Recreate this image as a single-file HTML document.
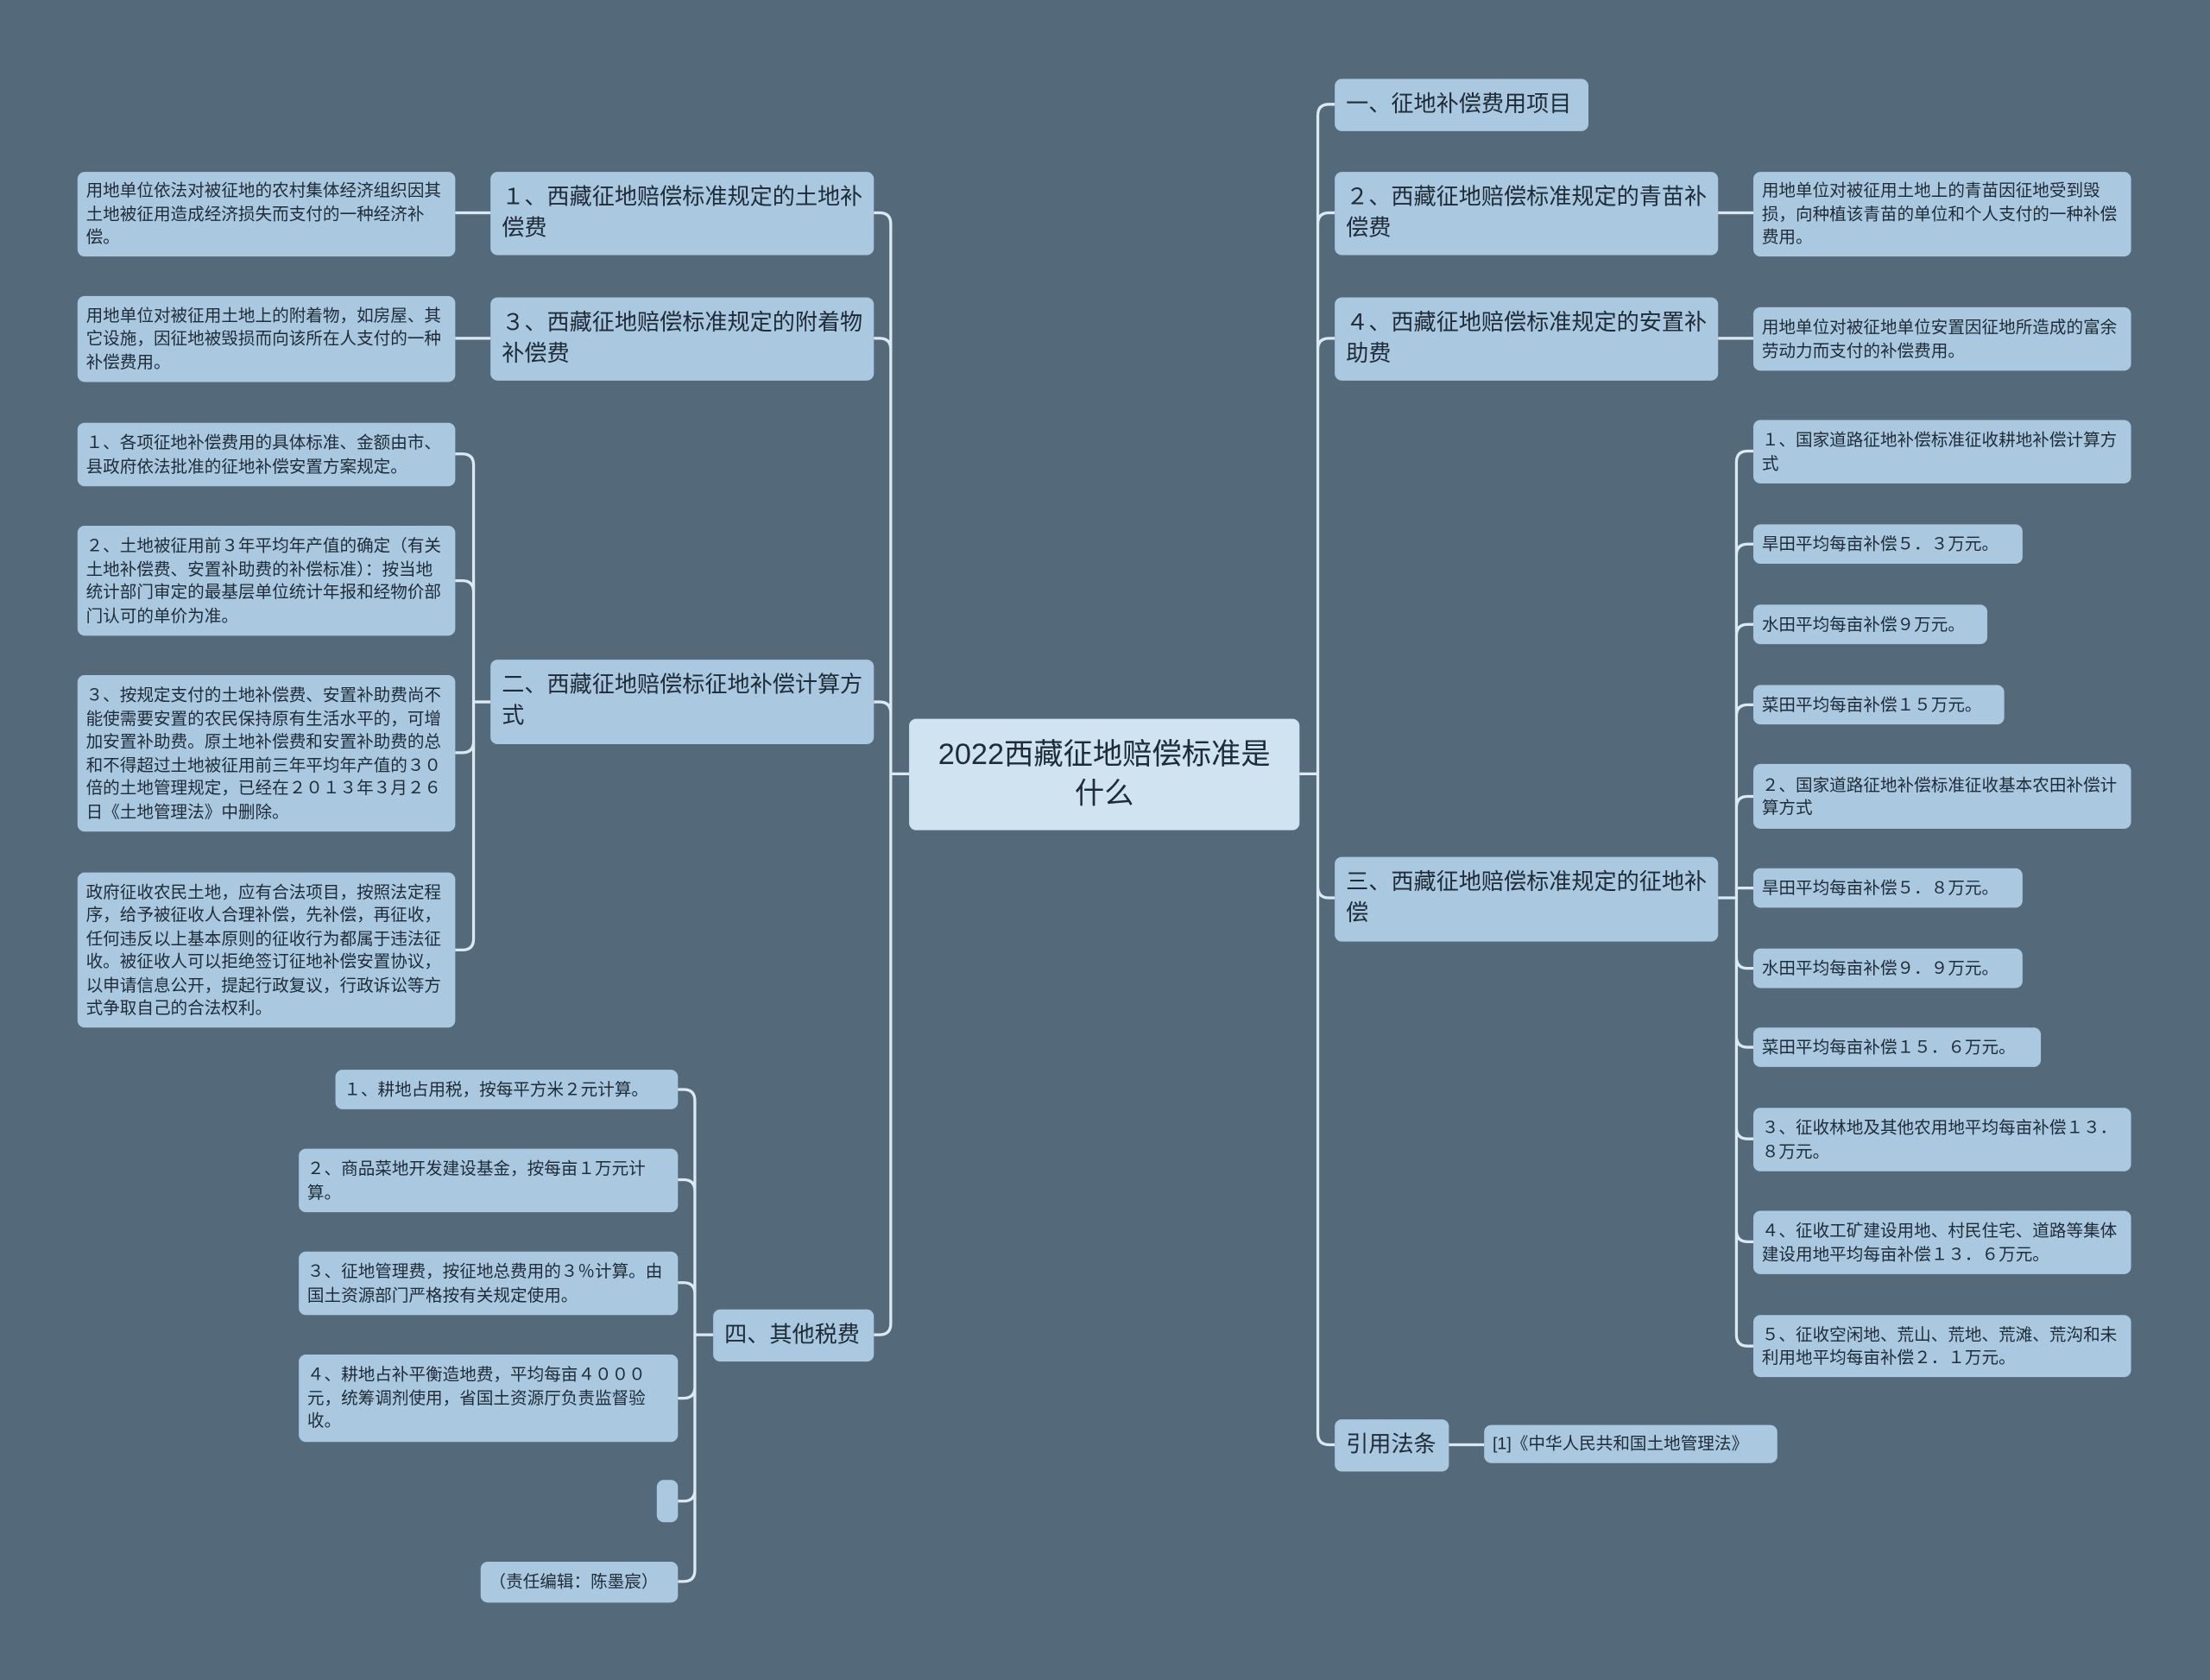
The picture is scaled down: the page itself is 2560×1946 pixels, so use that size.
<!DOCTYPE html>
<html><head><meta charset="utf-8">
<style>
html,body{margin:0;padding:0;background:#546a7a;width:2560px;height:1946px;overflow:hidden}
#s{position:absolute;left:0;top:0;width:1568px;height:1192px;transform:scale(1.632653);transform-origin:0 0;font-family:"Liberation Sans","Noto Sans CJK SC",sans-serif;color:#1f2b36}
.n{position:absolute;box-sizing:border-box;background:#aac8e0;border-radius:5px;display:flex;align-items:center;word-break:break-all}
.l1{font-size:16px;line-height:22px;padding:0 8px}
.lf{font-size:12px;line-height:16.5px;padding:0 6px}
.nw{white-space:nowrap}
.root{background:#cfe3f1;font-size:21px;line-height:28px;justify-content:center;text-align:center;padding:0 12px}
svg{position:absolute;left:0;top:0}
</style></head><body><div id="s">
<svg width="1568" height="1192" id="g"></svg>
<div class="n root" style="left:645px;top:510px;width:277px;height:79px">2022西藏征地赔偿标准是什么</div>

<div class="n l1 nw" style="left:947px;top:56px;width:180px;height:37px">一、征地补偿费用项目</div>
<div class="n l1" style="left:947px;top:122px;width:272px;height:59px">２、西藏征地赔偿标准规定的青苗补偿费</div>
<div class="n l1" style="left:947px;top:211px;width:272px;height:59px">４、西藏征地赔偿标准规定的安置补助费</div>
<div class="n l1" style="left:947px;top:608px;width:272px;height:60px">三、西藏征地赔偿标准规定的征地补偿</div>
<div class="n l1 nw" style="left:947px;top:1007px;width:81px;height:37px">引用法条</div>

<div class="n lf" style="left:1244px;top:122px;width:268px;height:60px">用地单位对被征用土地上的青苗因征地受到毁损，向种植该青苗的单位和个人支付的一种补偿费用。</div>
<div class="n lf" style="left:1244px;top:218px;width:268px;height:45px">用地单位对被征地单位安置因征地所造成的富余劳动力而支付的补偿费用。</div>
<div class="n lf" style="left:1244px;top:298px;width:268px;height:45px">１、国家道路征地补偿标准征收耕地补偿计算方式</div>
<div class="n lf nw" style="left:1244px;top:372px;width:191px;height:28px">旱田平均每亩补偿５．３万元。</div>
<div class="n lf nw" style="left:1244px;top:429px;width:166px;height:28px">水田平均每亩补偿９万元。</div>
<div class="n lf nw" style="left:1244px;top:486px;width:178px;height:28px">菜田平均每亩补偿１５万元。</div>
<div class="n lf" style="left:1244px;top:542px;width:268px;height:46px">２、国家道路征地补偿标准征收基本农田补偿计算方式</div>
<div class="n lf nw" style="left:1244px;top:616px;width:191px;height:28px">旱田平均每亩补偿５．８万元。</div>
<div class="n lf nw" style="left:1244px;top:673px;width:191px;height:28px">水田平均每亩补偿９．９万元。</div>
<div class="n lf nw" style="left:1244px;top:729px;width:204px;height:28px">菜田平均每亩补偿１５．６万元。</div>
<div class="n lf" style="left:1244px;top:786px;width:268px;height:45px">３、征收林地及其他农用地平均每亩补偿１３．８万元。</div>
<div class="n lf" style="left:1244px;top:859px;width:268px;height:45px">４、征收工矿建设用地、村民住宅、道路等集体建设用地平均每亩补偿１３．６万元。</div>
<div class="n lf" style="left:1244px;top:933px;width:268px;height:44px">５、征收空闲地、荒山、荒地、荒滩、荒沟和未利用地平均每亩补偿２．１万元。</div>
<div class="n lf nw" style="left:1053px;top:1011px;width:208px;height:27px">[1]《中华人民共和国土地管理法》</div>

<div class="n l1" style="left:348px;top:122px;width:272px;height:59px">１、西藏征地赔偿标准规定的土地补偿费</div>
<div class="n l1" style="left:348px;top:211px;width:272px;height:59px">３、西藏征地赔偿标准规定的附着物补偿费</div>
<div class="n l1" style="left:348px;top:468px;width:272px;height:60px">二、西藏征地赔偿标征地补偿计算方式</div>
<div class="n l1 nw" style="left:506px;top:929px;width:114px;height:37px">四、其他税费</div>

<div class="n lf" style="left:55px;top:122px;width:268px;height:60px">用地单位依法对被征地的农村集体经济组织因其土地被征用造成经济损失而支付的一种经济补偿。</div>
<div class="n lf" style="left:55px;top:210px;width:268px;height:61px">用地单位对被征用土地上的附着物，如房屋、其它设施，因征地被毁损而向该所在人支付的一种补偿费用。</div>
<div class="n lf" style="left:55px;top:300px;width:268px;height:45px">１、各项征地补偿费用的具体标准、金额由市、县政府依法批准的征地补偿安置方案规定。</div>
<div class="n lf" style="left:55px;top:373px;width:268px;height:78px">２、土地被征用前３年平均年产值的确定（有关土地补偿费、安置补助费的补偿标准）：按当地统计部门审定的最基层单位统计年报和经物价部门认可的单价为准。</div>
<div class="n lf" style="left:55px;top:479px;width:268px;height:111px">３、按规定支付的土地补偿费、安置补助费尚不能使需要安置的农民保持原有生活水平的，可增加安置补助费。原土地补偿费和安置补助费的总和不得超过土地被征用前三年平均年产值的３０倍的土地管理规定，已经在２０１３年３月２６日《土地管理法》中删除。</div>
<div class="n lf" style="left:55px;top:619px;width:268px;height:110px">政府征收农民土地，应有合法项目，按照法定程序，给予被征收人合理补偿，先补偿，再征收，任何违反以上基本原则的征收行为都属于违法征收。被征收人可以拒绝签订征地补偿安置协议，以申请信息公开，提起行政复议，行政诉讼等方式争取自己的合法权利。</div>
<div class="n lf nw" style="left:238px;top:759px;width:243px;height:28px">１、耕地占用税，按每平方米２元计算。</div>
<div class="n lf" style="left:212px;top:815px;width:269px;height:45px">２、商品菜地开发建设基金，按每亩１万元计算。</div>
<div class="n lf" style="left:212px;top:888px;width:269px;height:45px">３、征地管理费，按征地总费用的３％计算。由国土资源部门严格按有关规定使用。</div>
<div class="n lf" style="left:212px;top:961px;width:269px;height:62px">４、耕地占补平衡造地费，平均每亩４０００元，统筹调剂使用，省国土资源厅负责监督验收。</div>
<div class="n lf" style="left:466px;top:1050px;width:15px;height:30px"></div>
<div class="n lf nw" style="left:341px;top:1108px;width:140px;height:29px">（责任编辑：陈墨宸）</div>
</div>
<script>
var g=document.getElementById('g'),d='';
function c(px,py,tx,cy,cx){var r=8;if(Math.abs(cy-py)<r){d+='M'+px+' '+py+'H'+tx+'V'+cy+'H'+cx;return;}
var s=cy>py?1:-1,h=cx>tx?1:-1;d+='M'+px+' '+py+'H'+tx+'V'+(cy-s*r)+'Q'+tx+' '+cy+' '+(tx+h*r)+' '+cy+'H'+cx;}
[74,151,240,637,1025].forEach(function(y){c(922,549,935,y,947)});
c(1219,151,1232,151,1244);c(1219,240,1232,240,1244);
[320,386,443,500,565,630,687,743,808,881,955].forEach(function(y){c(1219,637,1232,y,1244)});
c(1028,1025,1040,1025,1053);
[151,240,498,947].forEach(function(y){c(645,549,632,y,620)});
c(348,151,336,151,323);c(348,240,336,240,323);
[322,412,534,674].forEach(function(y){c(348,498,336,y,323)});
[773,837,910,992,1065,1122].forEach(function(y){c(506,947,493,y,481)});
g.innerHTML='<path d="'+d+'" fill="none" stroke="#dde9f2" stroke-width="2"/>';
</script>
</body></html>
